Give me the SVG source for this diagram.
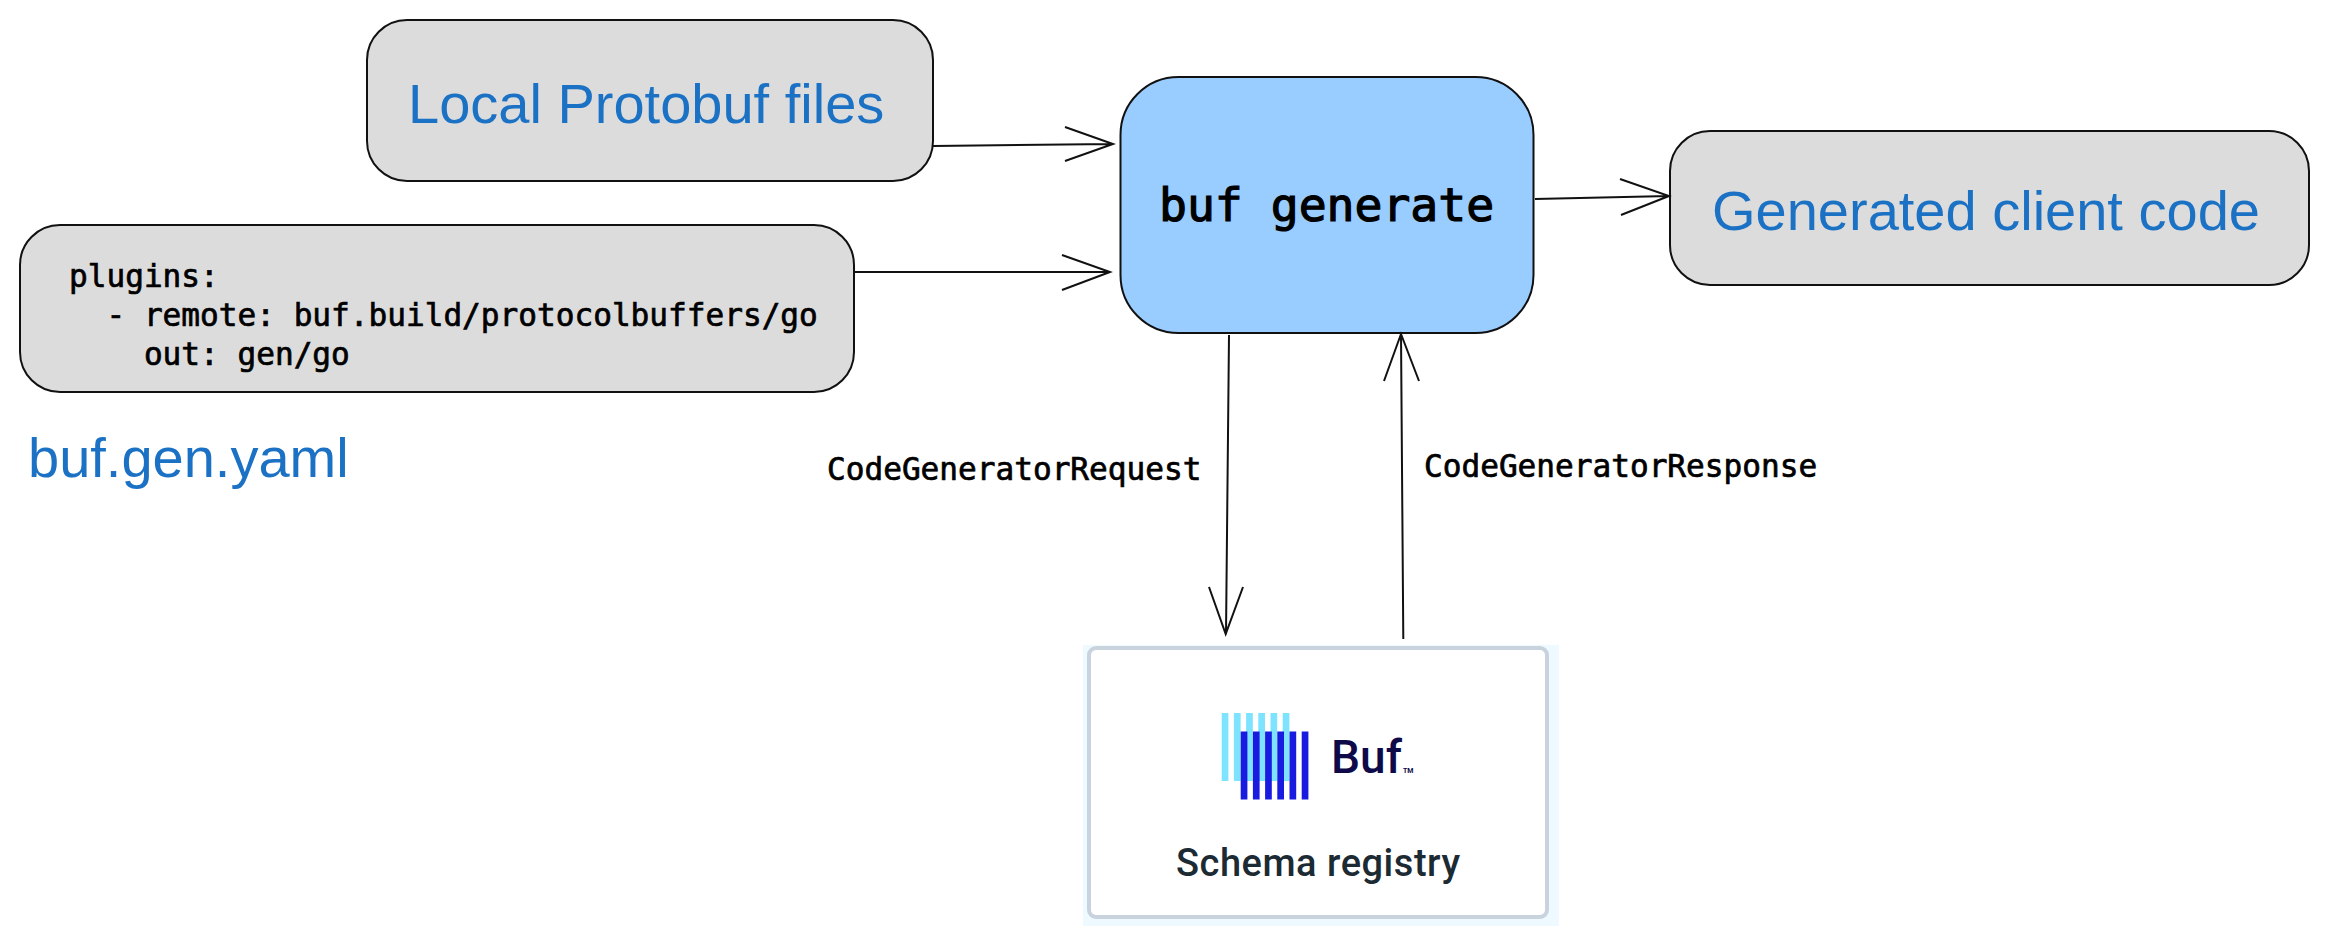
<svg xmlns="http://www.w3.org/2000/svg" width="2329" height="945" viewBox="0 0 2329 945">
<style>
.box{fill:#dcdcdc;stroke:#111;stroke-width:2}
.sans{font-family:"Liberation Sans",Arial,sans-serif;fill:#1b71c4}
.mono{font-family:"DejaVu Sans Mono","Liberation Mono",monospace;fill:#000;font-size:31.1px;stroke:#000;stroke-width:.7}
.c{fill:none;stroke:#111;stroke-width:2}
.cy{fill:#7de3ff}.bl{fill:#1a1be0}
</style>
<rect width="2329" height="945" fill="#fff"/>
<g id="local-files"><rect class="box" x="367" y="20" width="566" height="161" rx="40"/><text class="sans" x="408" y="123" font-size="56">Local Protobuf files</text></g>
<g id="config"><rect class="box" x="20" y="225" width="834" height="167" rx="40"/>
<text class="mono" x="69" y="287" xml:space="preserve">plugins:</text>
<text class="mono" x="69" y="326" xml:space="preserve">  - remote: buf.build/protocolbuffers/go</text>
<text class="mono" x="69" y="365" xml:space="preserve">    out: gen/go</text></g>
<g id="yaml-label"><text class="sans" x="28" y="477" font-size="56">buf.gen.yaml</text></g>
<g id="buf-generate"><rect x="1120.5" y="77" width="413" height="256" rx="58" fill="#99ccff" stroke="#111" stroke-width="2"/><text x="1159" y="221" font-family="DejaVu Sans Mono,monospace" font-size="46.4" stroke="#000" stroke-width="1.2">buf generate</text></g>
<g id="generated"><rect class="box" x="1670" y="131" width="639" height="154" rx="40"/><text class="sans" x="1712" y="230" font-size="56">Generated client code</text></g>
<g id="registry">
<rect x="1083" y="645" width="476" height="281" fill="#eefaff"/>
<rect x="1089" y="648" width="458" height="269" rx="7" fill="#fff" stroke="#c8d3de" stroke-width="4"/>
<g class="cy"><rect x="1221.7" y="713" width="6.7" height="68"/><rect x="1233.9" y="713" width="6.7" height="68"/><rect x="1246.1" y="713" width="6.7" height="68"/><rect x="1258.3" y="713" width="6.7" height="68"/><rect x="1270.5" y="713" width="6.7" height="68"/><rect x="1282.7" y="713" width="6.7" height="68"/></g>
<g class="bl"><rect x="1240.7" y="731.5" width="6.7" height="68"/><rect x="1252.9" y="731.5" width="6.7" height="68"/><rect x="1265.1" y="731.5" width="6.7" height="68"/><rect x="1277.3" y="731.5" width="6.7" height="68"/><rect x="1289.5" y="731.5" width="6.7" height="68"/><rect x="1301.7" y="731.5" width="6.7" height="68"/></g>
<text x="1331" y="773" font-family="Roboto,sans-serif" font-weight="500" font-size="46" fill="#0e0a4a">Buf</text>
<text x="1403" y="773" font-family="Roboto,sans-serif" font-size="7" font-weight="700" fill="#0e0a4a">TM</text>
<text x="1176" y="876" font-family="Roboto,sans-serif" font-weight="500" font-size="38" fill="#1c2a33" textLength="284">Schema registry</text>
</g>
<g id="connectors">
<path class="c" d="M933 146L1113 144M1065 127L1113 144L1065 161"/>
<path class="c" d="M854 272L1110 272M1062 255L1110 272L1062 290"/>
<path class="c" d="M1535 199L1669 196M1620 179L1669 196L1621 215"/>
<path class="c" d="M1229 335L1226 634M1209 587L1225.7 634L1243 587"/>
<path class="c" d="M1403.3 639L1401 334M1384 381L1401 334L1419 381"/>
</g>
<g id="labels"><text class="mono" x="827" y="480">CodeGeneratorRequest</text><text class="mono" x="1424" y="477">CodeGeneratorResponse</text></g>
</svg>
